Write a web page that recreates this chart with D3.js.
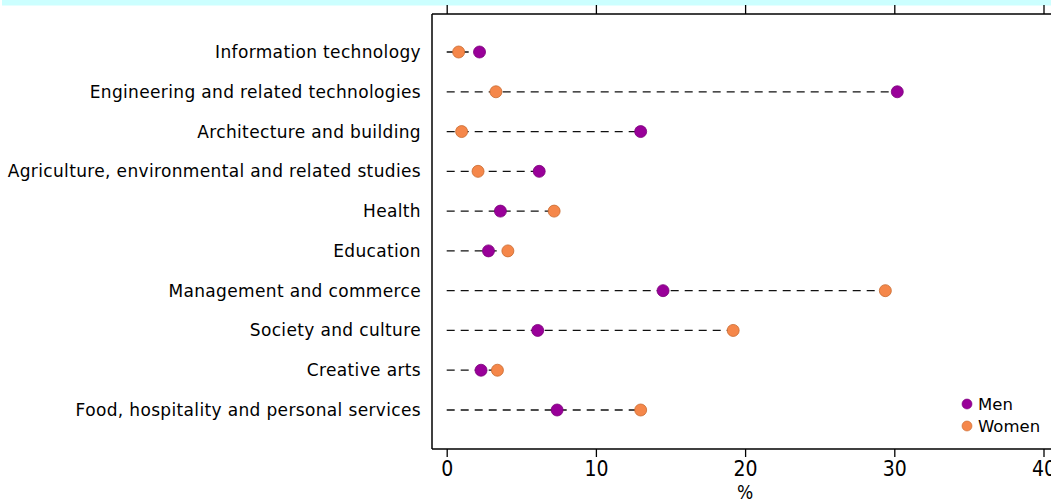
<!DOCTYPE html>
<html><head><meta charset="utf-8">
<script src="https://cdn.jsdelivr.net/npm/d3@7/dist/d3.min.js"></script>
<style>body{margin:0;background:#fff}svg{display:block}</style>
</head><body>
<svg id="c" width="1051" height="504"></svg>
<script>
const categories = ["Information technology","Engineering and related technologies","Architecture and building","Agriculture, environmental and related studies","Health","Education","Management and commerce","Society and culture","Creative arts","Food, hospitality and personal services"];
const men = [2.2, 30.2, 13.0, 6.2, 3.6, 2.8, 14.5, 6.1, 2.3, 7.4];
const women = [0.8, 3.3, 1.0, 2.1, 7.2, 4.1, 29.4, 19.2, 3.4, 13.0];
const xTicks = [0, 10, 20, 30, 40];
const seriesNames = ["Men", "Women"];

(function(){
const colors = {Men: "#990099", Women: "#f5874a"};
const strokes = {Men: "#7a007a", Women: "#c8692f"};

const svg = d3.select("#c");
const font = "DejaVu Sans, Verdana, sans-serif";
const condFont = "DejaVu Sans Condensed, DejaVu Sans, sans-serif";
const pLeft = 432, pRight = 1051, pTop = 14, pBottom = 449;
const x = d3.scaleLinear().domain([0, 40]).range([446.7, 1043.5]);
const y = d3.scalePoint().domain(categories).range([52, 410]);

// cyan band
svg.append("rect").attr("x", 2).attr("y", 0).attr("width", 1049).attr("height", 5.5).attr("fill", "#ccffff");

// frame
svg.append("line").attr("x1", pLeft).attr("x2", pRight).attr("y1", pTop).attr("y2", pTop).attr("stroke", "#000").attr("stroke-width", 1.5);
svg.append("line").attr("x1", pLeft).attr("x2", pLeft).attr("y1", pTop).attr("y2", pBottom).attr("stroke", "#000").attr("stroke-width", 1.5);

// bottom axis
const gx = svg.append("g").attr("transform", `translate(0,${pBottom})`)
  .call(d3.axisBottom(x).tickValues(xTicks).tickSize(8).tickSizeOuter(0).tickPadding(4));
gx.select(".domain").attr("d", `M${pLeft},0H${pRight}`).attr("stroke-width", 1.5);
gx.selectAll(".tick line").attr("stroke-width", 1.3);
gx.selectAll(".tick text").attr("font-family", condFont).attr("font-size", 21).attr("fill", "#000");

// top ticks
const gt = svg.append("g").attr("transform", `translate(0,${pTop})`)
  .call(d3.axisTop(x).tickValues(xTicks).tickSize(9).tickSizeOuter(0).tickFormat(""));
gt.select(".domain").remove();
gt.selectAll(".tick line").attr("stroke-width", 1.3);

svg.append("text").attr("x", x(20)).attr("y", 499).attr("text-anchor", "middle")
  .attr("font-family", condFont).attr("font-size", 19).text("%");

// category labels
svg.append("g").selectAll("text").data(categories).join("text")
  .attr("x", 421).attr("y", d => y(d)).attr("dy", "0.35em").attr("text-anchor", "end")
  .attr("font-family", font).attr("font-size", 17).attr("letter-spacing", "0.35px").attr("fill", "#000").text(d => d);

const rows = categories.map((c, i) => ({c, men: men[i], women: women[i]}));

// dashed lines
svg.append("g").selectAll("line").data(rows).join("line")
  .attr("x1", x(0)).attr("x2", d => x(Math.max(d.men, d.women)))
  .attr("y1", d => y(d.c)).attr("y2", d => y(d.c))
  .attr("stroke", "#111").attr("stroke-width", 1.3).attr("stroke-dasharray", "8,6");

// dots
seriesNames.forEach(s => {
  const key = s === "Men" ? "men" : "women";
  svg.append("g").selectAll("circle").data(rows).join("circle")
    .attr("cx", d => x(d[key])).attr("cy", d => y(d.c)).attr("r", 6)
    .attr("fill", colors[s]).attr("stroke", strokes[s]).attr("stroke-width", 0.8);
});

// legend
const lg = svg.append("g");
seriesNames.forEach((s, i) => {
  const ly = 404 + i * 22;
  lg.append("circle").attr("cx", 967).attr("cy", ly).attr("r", 5).attr("fill", colors[s]).attr("stroke", strokes[s]).attr("stroke-width", 0.6);
  lg.append("text").attr("x", 978).attr("y", ly).attr("dy", "0.35em").attr("font-family", font).attr("font-size", 16.5).attr("fill", "#000").text(s);
});
})();
</script>
</body></html>
